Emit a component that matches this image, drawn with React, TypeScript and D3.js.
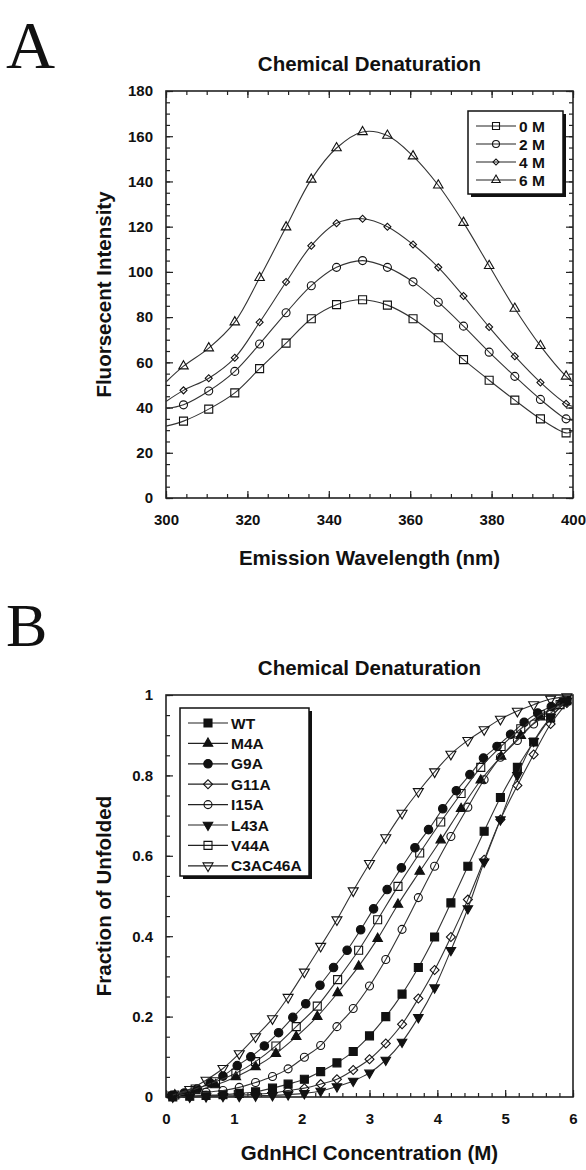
import * as React from "react"
import * as d3 from "d3"

const WIDTH = 586
const HEIGHT = 1170
const FONT = "'Liberation Sans', Arial, Helvetica, sans-serif"

// ---- panel A: emission spectra
const wavelength = [304.3, 310.5, 316.9, 323.0, 329.5, 335.7, 341.9, 348.3, 354.4, 360.7, 366.9, 373.1, 379.4, 385.7, 392.0, 398.3]
const spec0M = [34.0, 39.3, 46.5, 57.2, 68.5, 79.3, 85.5, 87.7, 85.3, 79.3, 70.9, 61.2, 52.1, 43.3, 35.0, 28.8]
const spec2M = [41.2, 47.3, 56.0, 68.1, 81.9, 93.9, 102.0, 105.0, 102.0, 95.6, 86.6, 76.0, 64.5, 53.8, 43.6, 35.0]
const spec4M = [47.6, 53.0, 62.0, 77.7, 95.5, 111.6, 121.5, 123.5, 120.0, 112.1, 102.0, 89.3, 75.6, 62.7, 51.1, 41.7]
const spec6M = [58.3, 66.3, 77.8, 97.4, 119.8, 140.9, 154.8, 161.9, 160.3, 151.2, 138.3, 121.8, 102.7, 83.8, 67.3, 53.8]
const specLabels = ["0 M", "2 M", "4 M", "6 M"]
// where the fitted curves meet the frame at 300 and 400 nm
const specEdges = [300, 400]
const specStart = [31.8, 39.5, 42.7, 51.3]
const specEnd = [29.5, 34.3, 40.5, 51.2]

// ---- panel B: denaturation curves
const concA = [0.10, 0.35, 0.59, 0.84, 1.08, 1.32, 1.57, 1.80, 2.04, 2.28, 2.52, 2.76, 3.00, 3.24, 3.48, 3.72, 3.96, 4.20, 4.45, 4.69, 4.93, 5.18, 5.42, 5.67, 5.91]
const concB = [0.13, 0.43, 0.73, 1.03, 1.32, 1.62, 1.92, 2.23, 2.53, 2.84, 3.12, 3.42, 3.74, 4.05, 4.35, 4.64, 4.94, 5.23, 5.52, 5.81]
const concC = [0.08, 0.27, 0.46, 0.65, 0.84, 1.05, 1.25, 1.45, 1.66, 1.87, 2.06, 2.27, 2.47, 2.67, 2.87, 3.06, 3.26, 3.47, 3.67, 3.87, 4.08, 4.28, 4.48, 4.68, 4.88, 5.08, 5.28, 5.48, 5.68, 5.87]

const WT = [0.000, 0.002, 0.004, 0.006, 0.009, 0.013, 0.022, 0.032, 0.044, 0.063, 0.085, 0.113, 0.152, 0.200, 0.256, 0.322, 0.398, 0.483, 0.574, 0.661, 0.745, 0.820, 0.883, 0.943, 0.986]
const M4A = [0.005, 0.015, 0.030, 0.050, 0.075, 0.108, 0.150, 0.200, 0.259, 0.325, 0.394, 0.479, 0.561, 0.639, 0.717, 0.788, 0.847, 0.899, 0.945, 0.980]
const G9A = [0.003, 0.010, 0.020, 0.035, 0.052, 0.078, 0.100, 0.127, 0.160, 0.198, 0.232, 0.278, 0.322, 0.365, 0.416, 0.468, 0.516, 0.570, 0.620, 0.665, 0.717, 0.762, 0.802, 0.843, 0.872, 0.902, 0.932, 0.955, 0.971, 0.986]
const G11A = [0.000, 0.002, 0.003, 0.004, 0.005, 0.007, 0.010, 0.016, 0.022, 0.032, 0.044, 0.067, 0.094, 0.133, 0.181, 0.245, 0.316, 0.398, 0.491, 0.590, 0.690, 0.775, 0.852, 0.928, 0.980]
const I15A = [0.004, 0.008, 0.012, 0.016, 0.024, 0.036, 0.051, 0.070, 0.099, 0.128, 0.175, 0.220, 0.276, 0.342, 0.417, 0.496, 0.574, 0.648, 0.721, 0.789, 0.845, 0.887, 0.928, 0.955, 0.986]
const L43A = [0.000, 0.000, 0.001, 0.002, 0.002, 0.003, 0.004, 0.006, 0.009, 0.015, 0.026, 0.040, 0.060, 0.092, 0.137, 0.198, 0.272, 0.365, 0.469, 0.585, 0.690, 0.800, 0.885, 0.945, 0.985]
const V44A = [0.005, 0.020, 0.038, 0.059, 0.088, 0.127, 0.175, 0.226, 0.292, 0.365, 0.441, 0.524, 0.607, 0.684, 0.755, 0.820, 0.872, 0.916, 0.951, 0.976]
const C3AC46A = [0.005, 0.019, 0.042, 0.071, 0.108, 0.150, 0.195, 0.248, 0.311, 0.375, 0.441, 0.513, 0.581, 0.645, 0.706, 0.760, 0.809, 0.853, 0.887, 0.914, 0.940, 0.960, 0.976, 0.990, 0.996]
const mutantLabels = ["WT", "M4A", "G9A", "G11A", "I15A", "L43A", "V44A", "C3AC46A"]

type Shape = "square" | "circle" | "diamond" | "up" | "down"

function markerPath(shape: Shape, size: number) {
  if (shape === "square") return d3.symbol(d3.symbolSquare, size * size)()
  if (shape === "circle") return d3.symbol(d3.symbolCircle, Math.PI * (size / 2) ** 2)()
  if (shape === "diamond") return d3.symbol(d3.symbolSquare, (size / Math.SQRT2) ** 2)()
  return d3.symbol(d3.symbolTriangle, (Math.sqrt(3) / 4) * size * size)()
}

function markerRotate(shape: Shape) {
  if (shape === "diamond") return 45
  if (shape === "down") return 180
  return 0
}

function addMarker(g, shape: Shape, size: number, filled: boolean, cx: number, cy: number) {
  g.append("path")
    .attr("d", markerPath(shape, size))
    .attr("transform", `translate(${cx},${cy}) rotate(${markerRotate(shape)})`)
    .attr("fill", filled ? "#111" : "none")
    .attr("stroke", "#111")
    .attr("stroke-width", 1.1)
}

function styleAxis(a) {
  a.select(".domain").remove()
  a.attr("font-family", FONT).attr("font-size", 15).attr("font-weight", "bold").attr("color", "#222")
  a.selectAll("line").attr("stroke-width", 1.2)
  a.selectAll("text").attr("fill", "#111")
}

function drawFrame(g, x, y, o) {
  const [x0, x1] = x.range()
  const [yb, yt] = y.range()

  const minor = (a) => a.tickSize(-4).tickFormat(() => "")
  g.append("g").attr("transform", `translate(0,${yb})`)
    .call(minor(d3.axisBottom(x).tickValues(o.xMinor))).call(styleAxis)
  g.append("g").attr("transform", `translate(${x0},0)`)
    .call(minor(d3.axisLeft(y).tickValues(o.yMinor))).call(styleAxis)
  g.append("g").attr("transform", `translate(0,${yb})`)
    .call(d3.axisBottom(x).tickValues(o.xMajor).tickSize(-7).tickPadding(16).tickFormat(o.fmtX)).call(styleAxis)
  g.append("g").attr("transform", `translate(${x0},0)`)
    .call(d3.axisLeft(y).tickValues(o.yMajor).tickSize(-7).tickPadding(13).tickFormat(o.fmtY)).call(styleAxis)

  if (o.mirror) {
    const none = () => ""
    g.append("g").attr("transform", `translate(0,${yt})`)
      .call(d3.axisTop(x).tickValues(o.xMinor).tickSize(-4).tickFormat(none)).call(styleAxis)
    g.append("g").attr("transform", `translate(0,${yt})`)
      .call(d3.axisTop(x).tickValues(o.xMajor).tickSize(-7).tickFormat(none)).call(styleAxis)
    g.append("g").attr("transform", `translate(${x1},0)`)
      .call(d3.axisRight(y).tickValues(o.yMinor).tickSize(-4).tickFormat(none)).call(styleAxis)
    g.append("g").attr("transform", `translate(${x1},0)`)
      .call(d3.axisRight(y).tickValues(o.yMajor).tickSize(-7).tickFormat(none)).call(styleAxis)
  }

  g.append("rect")
    .attr("x", x0).attr("y", yt).attr("width", x1 - x0).attr("height", yb - yt)
    .attr("fill", "none").attr("stroke", "#222").attr("stroke-width", 1.6)

  const cx = (x0 + x1) / 2
  const text = (s, tx, ty, size, rot = 0) =>
    g.append("text").text(s)
      .attr("transform", `translate(${tx},${ty}) rotate(${rot})`)
      .attr("text-anchor", "middle")
      .attr("font-family", FONT).attr("font-weight", "bold").attr("font-size", size).attr("fill", "#111")

  text(o.title, cx, yt - 20, 20.5)
  text(o.xLabel, cx, yb + o.xLabelGap, 20.5)
  text(o.yLabel, 111, (yb + yt) / 2, 20.5, -90)
  g.append("text").text(o.letter)
    .attr("x", 6).attr("y", o.letterY)
    .attr("font-family", "'Liberation Serif', 'Times New Roman', serif")
    .attr("font-size", o.letterSize).attr("fill", "#111")
}

function drawLegend(g, x0, y0, w, h, rowH, items) {
  g.append("rect").attr("x", x0 + 3).attr("y", y0 + 3).attr("width", w).attr("height", h).attr("fill", "#111")
  g.append("rect").attr("x", x0).attr("y", y0).attr("width", w).attr("height", h)
    .attr("fill", "#fff").attr("stroke", "#111").attr("stroke-width", 1.5)
  items.forEach((it, i) => {
    const cy = y0 + 15 + i * rowH
    g.append("line").attr("x1", x0 + 8).attr("x2", x0 + 48).attr("y1", cy).attr("y2", cy)
      .attr("stroke", "#222").attr("stroke-width", 1.2)
    addMarker(g, it.shape, it.size, it.filled, x0 + 28, cy)
    g.append("text").text(it.label).attr("x", x0 + 51).attr("y", cy).attr("dy", "0.36em")
      .attr("font-family", FONT).attr("font-weight", "bold").attr("font-size", 15.5).attr("fill", "#111")
  })
}

function drawSeries(g, x, y, xs, ys, shape: Shape, size: number, filled: boolean, start?, end?) {
  const pts = xs.map((d, i) => [d, ys[i]])
  const line = d3.line().x(d => x(d[0])).y(d => y(d[1])).curve(d3.curveCatmullRom.alpha(0.5))
  const path = start != null ? [[specEdges[0], start], ...pts, [specEdges[1], end]] : pts
  g.append("path").attr("d", line(path)).attr("fill", "none").attr("stroke", "#333").attr("stroke-width", 1.1)
  pts.forEach(p => addMarker(g, shape, size, filled, x(p[0]), y(p[1])))
}

function drawA(g) {
  const x = d3.scaleLinear([300, 400], [166, 573])
  const y = d3.scaleLinear([0, 180], [498, 91])
  drawFrame(g, x, y, {
    xMajor: d3.range(300, 401, 20), xMinor: d3.range(300, 401, 5),
    yMajor: d3.range(0, 181, 20), yMinor: d3.range(0, 181, 5),
    fmtX: d3.format("d"), fmtY: d3.format("d"), mirror: true,
    title: "Chemical Denaturation", xLabel: "Emission Wavelength (nm)", yLabel: "Fluorsecent Intensity",
    xLabelGap: 67, letter: "A", letterY: 68, letterSize: 68,
  })
  const specs = [spec0M, spec2M, spec4M, spec6M]
  const styles: [Shape, number][] = [["square", 8], ["circle", 8], ["diamond", 7], ["up", 9.5]]
  specs.forEach((s, i) => drawSeries(g, x, y, wavelength, s, styles[i][0], styles[i][1], false, specStart[i], specEnd[i]))
  drawLegend(g, 468, 111, 95, 83, 18,
    specLabels.map((label, i) => ({ label, shape: styles[i][0], size: styles[i][1] - 1, filled: false })))
}

function drawB(g) {
  const x = d3.scaleLinear([0, 6], [166, 573])
  const y = d3.scaleLinear([0, 1], [1097, 695])
  drawFrame(g, x, y, {
    xMajor: d3.range(0, 7, 1), xMinor: d3.range(0, 30.5, 1).map(d => d / 5),
    yMajor: d3.range(0, 6, 1).map(d => d / 5), yMinor: d3.range(0, 20.5, 1).map(d => d / 20),
    fmtX: d3.format("d"), fmtY: d => `${+(+d).toFixed(1)}`, mirror: false,
    title: "Chemical Denaturation", xLabel: "GdnHCl Concentration (M)", yLabel: "Fraction of Unfolded",
    xLabelGap: 63, letter: "B", letterY: 646, letterSize: 62,
  })
  const series = [
    [concA, WT, "square", 8, true],
    [concB, M4A, "up", 9.5, true],
    [concC, G9A, "circle", 8.5, true],
    [concA, G11A, "diamond", 9, false],
    [concA, I15A, "circle", 8, false],
    [concA, L43A, "down", 9.5, true],
    [concB, V44A, "square", 8, false],
    [concA, C3AC46A, "down", 10, false],
  ] as [number[], number[], Shape, number, boolean][]
  series.forEach(([xs, ys, shape, size, filled]) => drawSeries(g, x, y, xs, ys, shape, size, filled))
  drawLegend(g, 180, 708, 129, 168, 20.4,
    mutantLabels.map((label, i) => ({ label, shape: series[i][2], size: series[i][3], filled: series[i][4] })))
}

export default function App() {
  const svgRef = React.useRef<SVGSVGElement>(null)

  React.useEffect(() => {
    const svg = d3.select(svgRef.current)
    svg.selectAll("*").remove()
    drawA(svg.append("g"))
    drawB(svg.append("g"))
  }, [])

  return (
    <svg
      ref={svgRef}
      width={WIDTH}
      height={HEIGHT}
      style={{ position: "absolute", left: 0, top: 0, background: "#fff" }}
    />
  )
}
